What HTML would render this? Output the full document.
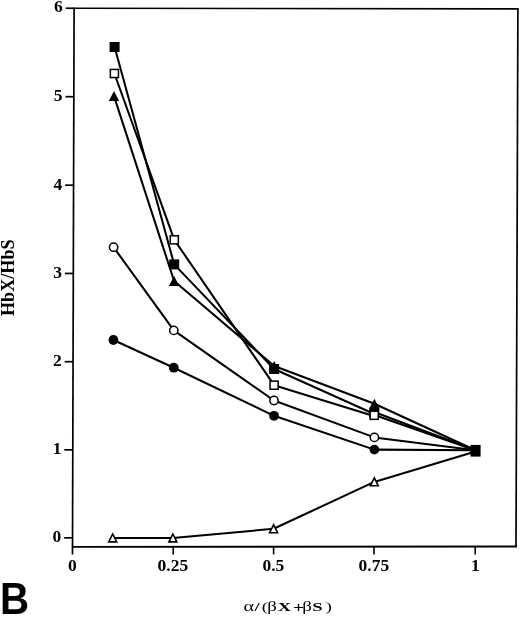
<!DOCTYPE html>
<html lang="en"><head><meta charset="utf-8"><title>Figure B</title>
<style>html,body{margin:0;padding:0;background:#fff}svg{display:block}text{font-family:"Liberation Serif","DejaVu Serif",serif;font-weight:bold;fill:#000}.tk{font-size:17.5px}.sans{font-family:"Liberation Sans","DejaVu Sans",sans-serif}.g{font-weight:normal}</style></head><body>
<svg width="520" height="617" viewBox="0 0 520 617">
<rect width="520" height="617" fill="#fff"/>
<g stroke="#000" fill="none" stroke-linecap="butt">
<line x1="73.5" y1="8.25" x2="518.5" y2="8.85" stroke-width="1.7"/>
<line x1="517.9" y1="8.85" x2="516.0" y2="547.35" stroke-width="1.7"/>
<line x1="74.1" y1="7.65" x2="72.48" y2="554.5" stroke-width="1.7"/>
<line x1="72.5" y1="546.9" x2="516.6" y2="546.45" stroke-width="1.9"/>
<line x1="65.70" y1="8.25" x2="74.10" y2="8.25" stroke-width="1.7"/>
<line x1="65.44" y1="96.70" x2="73.84" y2="96.70" stroke-width="1.7"/>
<line x1="65.17" y1="185.20" x2="73.57" y2="185.20" stroke-width="1.7"/>
<line x1="64.91" y1="273.45" x2="73.31" y2="273.45" stroke-width="1.7"/>
<line x1="64.65" y1="361.70" x2="73.05" y2="361.70" stroke-width="1.7"/>
<line x1="64.39" y1="449.85" x2="72.79" y2="449.85" stroke-width="1.7"/>
<line x1="64.13" y1="537.85" x2="72.53" y2="537.85" stroke-width="1.7"/>
<line x1="173.20" y1="546.80" x2="173.20" y2="554.4" stroke-width="1.6"/>
<line x1="273.60" y1="546.70" x2="273.60" y2="554.4" stroke-width="1.6"/>
<line x1="374.00" y1="546.59" x2="374.00" y2="554.4" stroke-width="1.6"/>
<line x1="475.20" y1="546.49" x2="475.20" y2="554.4" stroke-width="1.6"/>
</g>
<text class="tk" x="62.67" y="12.15" text-anchor="end">6</text>
<text class="tk" x="62.45" y="101.10" text-anchor="end">5</text>
<text class="tk" x="62.23" y="189.60" text-anchor="end">4</text>
<text class="tk" x="62.01" y="277.85" text-anchor="end">3</text>
<text class="tk" x="61.79" y="366.10" text-anchor="end">2</text>
<text class="tk" x="61.57" y="454.25" text-anchor="end">1</text>
<text class="tk" x="61.35" y="542.25" text-anchor="end">0</text>
<text class="tk" x="72.35" y="570.5" text-anchor="middle">0</text>
<text class="tk" x="172.90" y="570.5" text-anchor="middle">0.25</text>
<text class="tk" x="273.40" y="570.5" text-anchor="middle">0.5</text>
<text class="tk" x="373.90" y="570.5" text-anchor="middle">0.75</text>
<text class="tk" x="475.40" y="570.5" text-anchor="middle">1</text>
<text transform="translate(14.2 277.7) rotate(-90)" font-size="18.2" text-anchor="middle">HbX/HbS</text>
<text transform="translate(0 611.4) scale(1.38 1)"><tspan class="g" x="176.49" font-size="14.5">α</tspan><tspan x="184.35" font-size="13.5">/</tspan><tspan class="g" x="189.75" font-size="13.5">(</tspan><tspan class="g" x="193.62" font-size="13.7">β</tspan><tspan x="201.20" font-size="13.5">X</tspan><tspan x="212.25" dy="1" font-size="14">+</tspan><tspan class="g" x="218.99" dy="-1" font-size="13.7">β</tspan><tspan x="226.23" font-size="13.5">S</tspan><tspan class="g" x="236.01" font-size="13.5">)</tspan></text>
<text class="sans" transform="translate(0 614.2) scale(0.925 1)" font-size="43.5">B</text>
<g stroke="#000" fill="none" stroke-width="2.05" stroke-linejoin="round">
<polyline points="114.60,47.00 174.20,264.40 274.10,369.00 369.80,412.00 378.80,413.80 475.50,450.20"/>
<polyline points="114.40,73.50 174.30,239.80 274.10,385.20 369.70,414.70 378.70,416.50 475.50,450.20"/>
<polyline points="114.00,96.10 174.10,281.00 274.20,366.00 374.40,403.80 475.50,450.20"/>
<polyline points="113.60,247.20 173.80,330.40 274.00,400.50 374.40,437.40 475.50,450.20"/>
<polyline points="113.40,340.00 173.80,367.70 274.00,415.80 374.40,449.60 475.50,450.20"/>
<polyline points="112.70,538.00 172.90,538.00 273.60,528.80 374.30,481.90 475.50,451.60"/>
</g>
<polygon points="112.70,534.00 116.70,541.90 108.70,541.90" fill="#fff" stroke="#000" stroke-width="1.6" stroke-linejoin="miter"/>
<polygon points="172.90,534.00 176.90,541.90 168.90,541.90" fill="#fff" stroke="#000" stroke-width="1.6" stroke-linejoin="miter"/>
<polygon points="273.60,524.80 277.60,532.70 269.60,532.70" fill="#fff" stroke="#000" stroke-width="1.6" stroke-linejoin="miter"/>
<polygon points="374.30,477.90 378.30,485.80 370.30,485.80" fill="#fff" stroke="#000" stroke-width="1.6" stroke-linejoin="miter"/>
<circle cx="113.40" cy="340.00" r="4.9" fill="#000"/>
<circle cx="173.80" cy="367.70" r="4.9" fill="#000"/>
<circle cx="274.00" cy="415.80" r="4.9" fill="#000"/>
<circle cx="374.40" cy="449.60" r="4.9" fill="#000"/>
<circle cx="113.60" cy="247.20" r="4.15" fill="#fff" stroke="#000" stroke-width="1.5"/>
<circle cx="173.80" cy="330.40" r="4.15" fill="#fff" stroke="#000" stroke-width="1.5"/>
<circle cx="274.00" cy="400.50" r="4.15" fill="#fff" stroke="#000" stroke-width="1.5"/>
<circle cx="374.40" cy="437.40" r="4.15" fill="#fff" stroke="#000" stroke-width="1.5"/>
<rect x="109.60" y="42.00" width="10.0" height="10.0" fill="#000"/>
<rect x="169.20" y="259.40" width="10.0" height="10.0" fill="#000"/>
<rect x="269.10" y="364.00" width="10.0" height="10.0" fill="#000"/>
<rect x="369.30" y="407.60" width="10.0" height="10.0" fill="#000"/>
<rect x="470.50" y="444.90" width="10.1" height="11.7" fill="#000"/>
<polygon points="114.00,91.10 119.20,101.10 108.80,101.10" fill="#000"/>
<polygon points="174.10,276.00 179.30,286.00 168.90,286.00" fill="#000"/>
<polygon points="274.20,361.00 279.40,371.00 269.00,371.00" fill="#000"/>
<polygon points="374.40,398.80 379.60,408.80 369.20,408.80" fill="#000"/>
<rect x="110.35" y="69.45" width="8.1" height="8.1" fill="#fff" stroke="#000" stroke-width="1.5"/>
<rect x="170.25" y="235.75" width="8.1" height="8.1" fill="#fff" stroke="#000" stroke-width="1.5"/>
<rect x="270.05" y="381.15" width="8.1" height="8.1" fill="#fff" stroke="#000" stroke-width="1.5"/>
<rect x="370.15" y="411.25" width="8.1" height="8.1" fill="#fff" stroke="#000" stroke-width="1.5"/>
</svg></body></html>
